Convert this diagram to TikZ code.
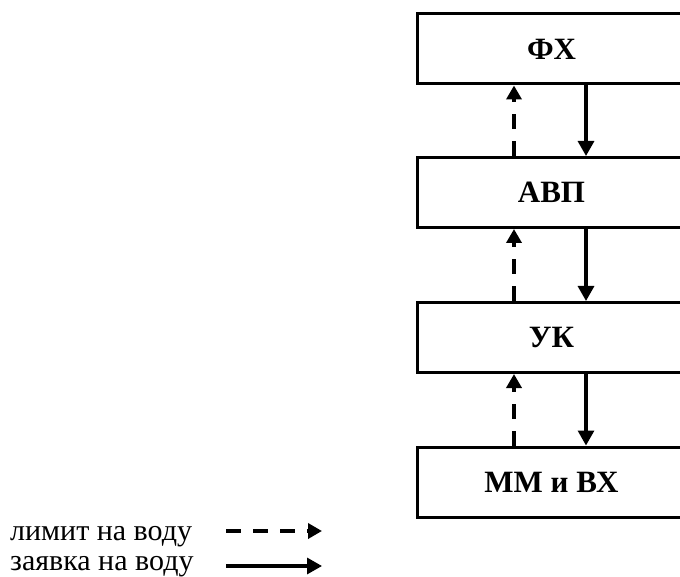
\documentclass[tikz,border=0pt]{standalone}
\usepackage{fontspec}
\setmainfont{Liberation Serif}
\usetikzlibrary{arrows.meta}
\begin{document}
\begin{tikzpicture}[x=1pt,y=-1pt,
  blockbox/.style={draw,line width=3pt,minimum width=269pt,minimum height=70pt,inner sep=0pt,
    font=\fontsize{31}{34}\selectfont\bfseries},
  reqarrow/.style={line width=3.2pt,-{Triangle[width=16pt,length=15pt]}},
  limarrow/.style={line width=3.6pt,dash pattern=on 15pt off 12pt,-{Triangle[width=15pt,length=14pt]}},
  legtext/.style={anchor=base west,inner sep=0pt,font=\fontsize{30}{33}\selectfont}]
\useasboundingbox (0,0) rectangle (680,577);
\clip (0,0) rectangle (680,577);
\node[blockbox] (b1) at (551.5,49) {ФХ};
\node[blockbox] (b2) at (551.5,192.5) {АВП};
\node[blockbox] (b3) at (551.5,337.5) {УК};
\node[blockbox] (b4) at (551.5,482) {ММ и ВХ};
\draw[limarrow] ([xshift=-37.5pt]b2.north) -- ([xshift=-37.5pt]b1.south);
\draw[limarrow] ([xshift=-37.5pt]b3.north) -- ([xshift=-37.5pt]b2.south);
\draw[limarrow] ([xshift=-37.5pt]b4.north) -- ([xshift=-37.5pt]b3.south);
\draw[reqarrow] ([xshift=34.5pt]b1.south) -- ([xshift=34.5pt]b2.north);
\draw[reqarrow] ([xshift=34.5pt]b2.south) -- ([xshift=34.5pt]b3.north);
\draw[reqarrow] ([xshift=34.5pt]b3.south) -- ([xshift=34.5pt]b4.north);
\node[legtext] (t1) at (10,540) {лимит на воду};
\node[legtext] (t2) at (10,570) {заявка на воду};
\coordinate (l1s) at (226,531);
\coordinate (l1e) at (322,531);
\coordinate (l2s) at (226,566);
\coordinate (l2e) at (322,566);
\draw[limarrow] (l1s) -- (l1e);
\draw[reqarrow] (l2s) -- (l2e);
\end{tikzpicture}
\end{document}
